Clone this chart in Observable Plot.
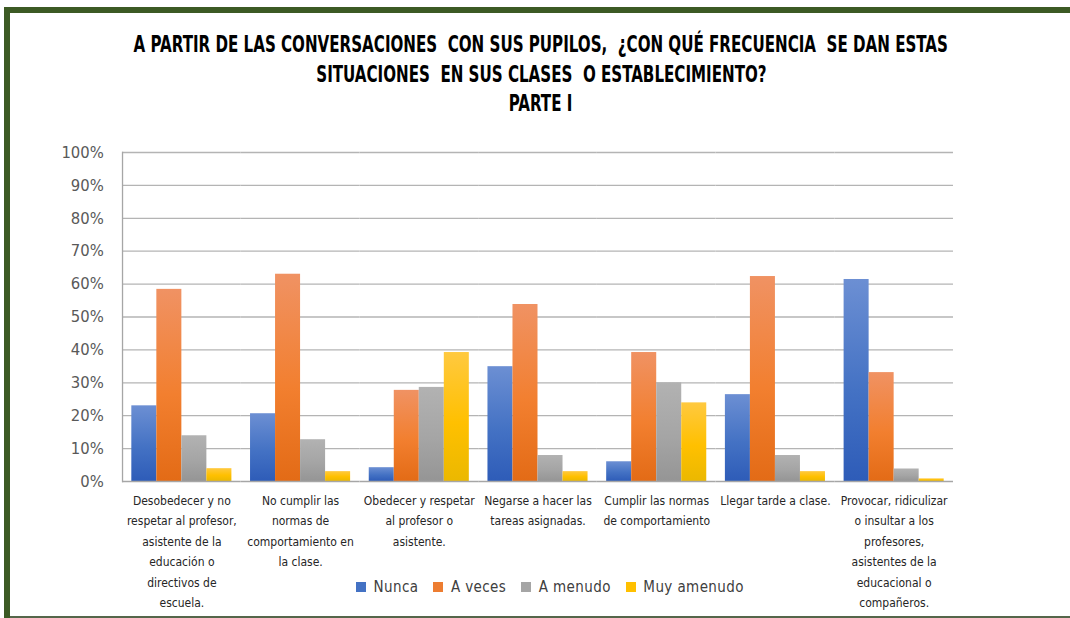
<!DOCTYPE html>
<html>
<head>
<meta charset="utf-8">
<script src="https://cdn.jsdelivr.net/npm/d3@7"></script>
<script src="https://cdn.jsdelivr.net/npm/@observablehq/plot@0.6"></script>
<style>
  html, body { margin: 0; padding: 0; background: #fff; }
  #wrap { position: relative; width: 1070px; height: 618px; overflow: hidden; background: #fff; }
  .bar-l { position: absolute; left: 4px; top: 7px; width: 6px; height: 611px; background: #3c5a24; }
  .bar-t { position: absolute; left: 4px; top: 7px; width: 1066px; height: 6px; background: #3c5a24; }
  .bar-b { position: absolute; left: 10px; top: 616px; width: 1060px; height: 2px; background: #55664a; }
  #title { position: absolute; left: -259px; top: 30px; width: 1600px; text-align: center;
    font-family: "Liberation Sans Narrow", "DejaVu Sans Condensed", "Arial Narrow", sans-serif;
    font-weight: bold; font-size: 23px; color: #000; }
  #title div { height: 29.5px; line-height: 29.5px; }
  #title span { display: inline-block; transform: scaleX(0.73); transform-origin: center; white-space: pre; }
  #chart { position: absolute; left: 0; top: 130px; }
  #legend { position: absolute; left: 356px; top: 570px; }
</style>
</head>
<body>
<div id="wrap">
  <div class="bar-t"></div>
  <div class="bar-l"></div>
  <div class="bar-b"></div>
  <div id="title"></div>
  <div id="chart"></div>
  <div id="legend"></div>
</div>
<script>
const titleLines = [
  "A PARTIR DE LAS CONVERSACIONES  CON SUS PUPILOS,  ¿CON QUÉ FRECUENCIA  SE DAN ESTAS",
  "SITUACIONES  EN SUS CLASES  O ESTABLECIMIENTO?",
  "PARTE I"
];

const categories = [
  "Desobedecer y no respetar al profesor, asistente de la educación o directivos de escuela.",
  "No cumplir las normas de comportamiento en la clase.",
  "Obedecer y respetar al profesor o asistente.",
  "Negarse a hacer las tareas asignadas.",
  "Cumplir las normas de comportamiento",
  "Llegar tarde a clase.",
  "Provocar, ridiculizar o insultar a los profesores, asistentes de la educacional o compañeros."
];
const tickLabels = [
  "Desobedecer y no\nrespetar al profesor,\nasistente de la\neducación o\ndirectivos de\nescuela.",
  "No cumplir las\nnormas de\ncomportamiento en\nla clase.",
  "Obedecer y respetar\nal profesor o\nasistente.",
  "Negarse a hacer las\ntareas asignadas.",
  "Cumplir las normas\nde comportamiento",
  "Llegar tarde a clase.",
  "Provocar, ridiculizar\no insultar a los\nprofesores,\nasistentes de la\neducacional o\ncompañeros."
];
const series = ["Nunca", "A veces", "A menudo", "Muy amenudo"];
const colors = ["#4472c4", "#ed7d31", "#a5a5a5", "#ffc000"];

const nunca      = [23.0, 20.6,  4.2, 34.9,  6.0, 26.4, 61.4];
const aVeces     = [58.4, 63.0, 27.7, 53.8, 39.2, 62.3, 33.1];
const aMenudo    = [13.9, 12.7, 28.6,  7.9, 30.0,  7.9,  3.8];
const muyAmenudo = [ 3.9,  3.0, 39.2,  3.0, 23.9,  3.0,  0.8];

const yTicks = [0, 10, 20, 30, 40, 50, 60, 70, 80, 90, 100];

const seriesValues = [nunca, aVeces, aMenudo, muyAmenudo];
const data = [];
categories.forEach((c, i) => {
  series.forEach((s, j) => data.push({category: c, series: s, value: seriesValues[j][i]}));
});

const font = '"Liberation Sans Narrow", "DejaVu Sans Condensed", "Arial Narrow", sans-serif';

// title
const titleEl = document.getElementById("title");
titleLines.forEach(t => {
  const d = document.createElement("div");
  const s = document.createElement("span");
  s.textContent = t;
  d.appendChild(s);
  titleEl.appendChild(d);
});

const padInner = 0.157;
const gap = 9.3; // half the gap between category groups, to join gridlines across facets

const chart = Plot.plot({
  width: 1070,
  height: 488,
  marginLeft: 122,
  marginRight: 117,
  marginTop: 22,
  marginBottom: 137,
  style: {fontFamily: font, background: "transparent", overflow: "visible"},
  fx: {domain: categories, paddingInner: padInner, paddingOuter: padInner / 2, round: false, label: null, axis: null},
  x: {domain: series, padding: 0, round: false, axis: null},
  y: {domain: [0, 100], axis: null},
  color: {domain: series, range: colors},
  marks: [
    Plot.ruleY(yTicks.filter(d => d > 0), {stroke: "#b4b4b4", strokeWidth: 1.3, insetLeft: -gap, insetRight: -gap}),
    Plot.barY(data, {fx: "category", x: "series", y: "value", fill: "series"}),
    Plot.ruleY([0], {stroke: "#a6a6a6", strokeWidth: 1.5, insetLeft: -gap, insetRight: -gap}),
    Plot.frame({anchor: "left", facetAnchor: "left", dx: -gap, stroke: "#a6a6a6", strokeWidth: 1.3}),
    Plot.axisY({
      ticks: yTicks, tickFormat: d => d + "%", tickSize: 0, tickPadding: 28,
      fontSize: 16.5, fill: "#595959", label: null, anchor: "left"
    }),
    Plot.axisFx({
      anchor: "bottom", tickSize: 0, tickPadding: 9, fontSize: 12, lineHeight: 1.7,
      fill: "#262626", label: null,
      tickFormat: d => tickLabels[categories.indexOf(d)]
    })
  ]
});

// Excel-like vertical gradients on bars
const svg = d3.select(chart);
const defs = svg.insert("defs", ":first-child");
const shades = {
  "#4472c4": ["#6c8fd3", "#4472c4", "#2e5cb8"],
  "#ed7d31": ["#f09263", "#f27f2f", "#e36b16"],
  "#a5a5a5": ["#b2b2b2", "#a5a5a5", "#959595"],
  "#ffc000": ["#ffc940", "#ffc000", "#ebb800"]
};
Object.entries(shades).forEach(([c, s], i) => {
  const g = defs.append("linearGradient").attr("id", "grad" + i)
    .attr("x1", 0).attr("y1", 0).attr("x2", 0).attr("y2", 1);
  g.append("stop").attr("offset", "0%").attr("stop-color", s[0]);
  g.append("stop").attr("offset", "55%").attr("stop-color", s[1]);
  g.append("stop").attr("offset", "100%").attr("stop-color", s[2]);
});
svg.selectAll("rect").each(function() {
  const f = (this.getAttribute("fill") || "").toLowerCase();
  const idx = colors.indexOf(f);
  if (idx >= 0) this.setAttribute("fill", `url(#grad${idx})`);
});

document.getElementById("chart").appendChild(chart);

const legend = Plot.legend({
  color: {domain: series, range: colors},
  swatchSize: 10,
  style: {fontFamily: font, fontSize: "15px", color: "#404040", letterSpacing: "0.4px"}
});
document.getElementById("legend").appendChild(legend);
</script>
</body>
</html>
